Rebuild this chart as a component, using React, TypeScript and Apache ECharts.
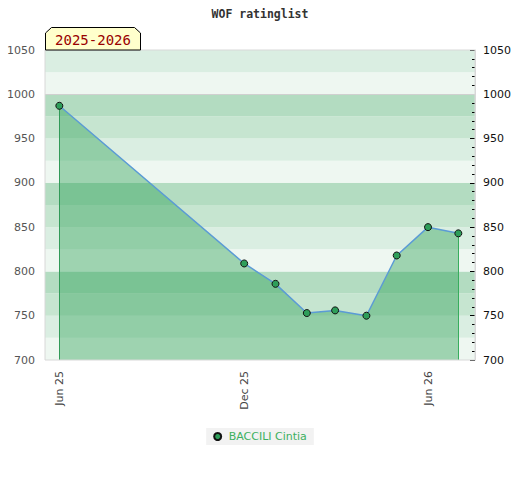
import React, { useEffect, useRef } from "react";
import * as echarts from "echarts";

const chartTitle = "WOF ratinglist";
const seasonLabel = "2025-2026";
const playerName = "BACCILI Cintia";
const dates = [
  "2025-06-01",
  "2025-12-01",
  "2026-01-01",
  "2026-02-01",
  "2026-03-01",
  "2026-04-01",
  "2026-05-01",
  "2026-06-01",
  "2026-07-01",
];
const ratings = [987, 809, 786, 753, 756, 750, 818, 850, 843];
const xTickDates = ["2025-06-01", "2025-12-01", "2026-06-01"];
const yMin = 700;
const yMax = 1050;
const yStep = 50;
const bandStep = 25;
const highlightLine = 1000;
const monthNames = ["Jan", "Feb", "Mar", "Apr", "May", "Jun", "Jul", "Aug", "Sep", "Oct", "Nov", "Dec"];

const DAY = 86400000;
function ts(s: string): number {
  const [y, m, d] = s.split("-").map(Number);
  return new Date(y, m - 1, d).getTime();
}

const FONT = "DejaVu Sans";

export default function App() {
  const ref = useRef<HTMLDivElement>(null);
  useEffect(() => {
    document.body.style.margin = "0";
    if (!ref.current) return;
    const chart = echarts.init(ref.current, null, { renderer: "svg" });
    const pts = dates.map((d, i) => [ts(d), ratings[i]]);
    const first = pts[0];
    const last = pts[pts.length - 1];
    const xMin = ts(xTickDates[0]) - 14.2 * DAY;
    const xMax = ts(xTickDates[2]) + 46.5 * DAY;
    chart.setOption({
      animation: false,
      title: {
        text: chartTitle,
        left: "center",
        top: 3,
        textStyle: { fontFamily: "DejaVu Sans Mono", fontSize: 11.5, fontWeight: "bold", color: "#333" },
      },
      grid: { left: 45, right: 45, top: 50, bottom: 120, containLabel: false },
      xAxis: {
        type: "value",
        min: xMin,
        max: xMax,
        axisLine: { show: false },
        axisTick: { show: false },
        splitLine: { show: false },
        axisLabel: {
          customValues: xTickDates.map(ts),
          rotate: 90,
          margin: 11,
          color: "#444",
          fontFamily: FONT,
          fontSize: 11,
          formatter: (v: number) => {
            const d = new Date(v);
            return monthNames[d.getMonth()] + " " + String(d.getFullYear()).slice(2);
          },
        },
      },
      yAxis: [
        {
          type: "value",
          min: yMin,
          max: yMax,
          interval: yStep,
          position: "left",
          axisLine: { show: false },
          axisTick: { show: false },
          splitLine: { show: false },
          axisLabel: { color: "#555", fontFamily: FONT, fontSize: 11, margin: 10, formatter: (v: number) => String(v) },
        },
        {
          type: "value",
          min: yMin,
          max: yMax,
          interval: yStep,
          position: "right",
          axisLine: { show: true, lineStyle: { color: "#d8d8d8", width: 1 } },
          axisTick: { show: true, inside: true, length: 5, lineStyle: { color: "#000" } },
          minorTick: { show: true, splitNumber: 5, length: 3, lineStyle: { color: "#000" } },
          splitLine: { show: false },
          axisLabel: { color: "#111", fontFamily: FONT, fontSize: 11, margin: 8, formatter: (v: number) => String(v) },
        },
        {
          type: "value",
          min: yMin,
          max: yMax,
          interval: bandStep,
          show: true,
          position: "left",
          axisLine: { show: false },
          axisTick: { show: false },
          axisLabel: { show: false },
          splitLine: { show: false },
          splitArea: {
            show: true,
            areaStyle: { color: ["#eef7f1", "#daeee2", "#c6e5d0", "#b3dcc1"] },
          },
        },
      ],
      legend: {
        top: 428,
        left: "center",
        backgroundColor: "#f2f2f2",
        padding: [3, 7],
        itemWidth: 12,
        itemHeight: 7,
        icon: "circle",
        textStyle: { color: "#3cb060", fontFamily: FONT, fontSize: 11 },
        data: [playerName],
      },
      series: [
        {
          type: "line",
          name: playerName,
          yAxisIndex: 0,
          data: pts,
          symbol: "circle",
          symbolSize: 7,
          z: 5,
          itemStyle: { color: "#2e9e5a", borderColor: "#111", borderWidth: 1 },
          lineStyle: { color: "#5b9bd5", width: 1.5 },
          areaStyle: { color: "#259e50", opacity: 0.4, origin: "start" },
          markLine: {
            silent: true,
            symbol: "none",
            label: { show: false },
            data: [
              [
                { coord: [first[0], yMin], lineStyle: { color: "#379a5c", width: 1, type: "solid" } },
                { coord: [first[0], first[1]] },
              ],
              [
                { coord: [last[0], yMin], lineStyle: { color: "#3cb060", width: 1, type: "solid" } },
                { coord: [last[0], last[1]] },
              ],
              { yAxis: highlightLine, lineStyle: { color: "#d0d0d0", width: 1, type: "solid" } },
            ],
          },
        },
      ],
      graphic: [
        {
          type: "rect",
          shape: { x: 45, y: 50, width: 430, height: 310 },
          style: { fill: "none", stroke: "#d8d8d8", lineWidth: 1 },
          z: 10,
          silent: true,
        },
        {
          type: "polygon",
          shape: {
            points: [
              [45.5, 50],
              [45.5, 33],
              [51.5, 27.5],
              [134.5, 27.5],
              [140.5, 33],
              [140.5, 50],
            ],
          },
          style: { fill: "#ffffcc", stroke: "#000", lineWidth: 1 },
          z: 11,
        },
        {
          type: "text",
          x: 93,
          y: 40,
          style: {
            text: seasonLabel,
            fill: "#990000",
            font: "14px 'DejaVu Sans Mono'",
            textAlign: "center",
            textVerticalAlign: "middle",
          },
          z: 12,
        },
      ],
    });
    return () => chart.dispose();
  }, []);
  return <div ref={ref} style={{ width: 520, height: 480 }} />;
}
